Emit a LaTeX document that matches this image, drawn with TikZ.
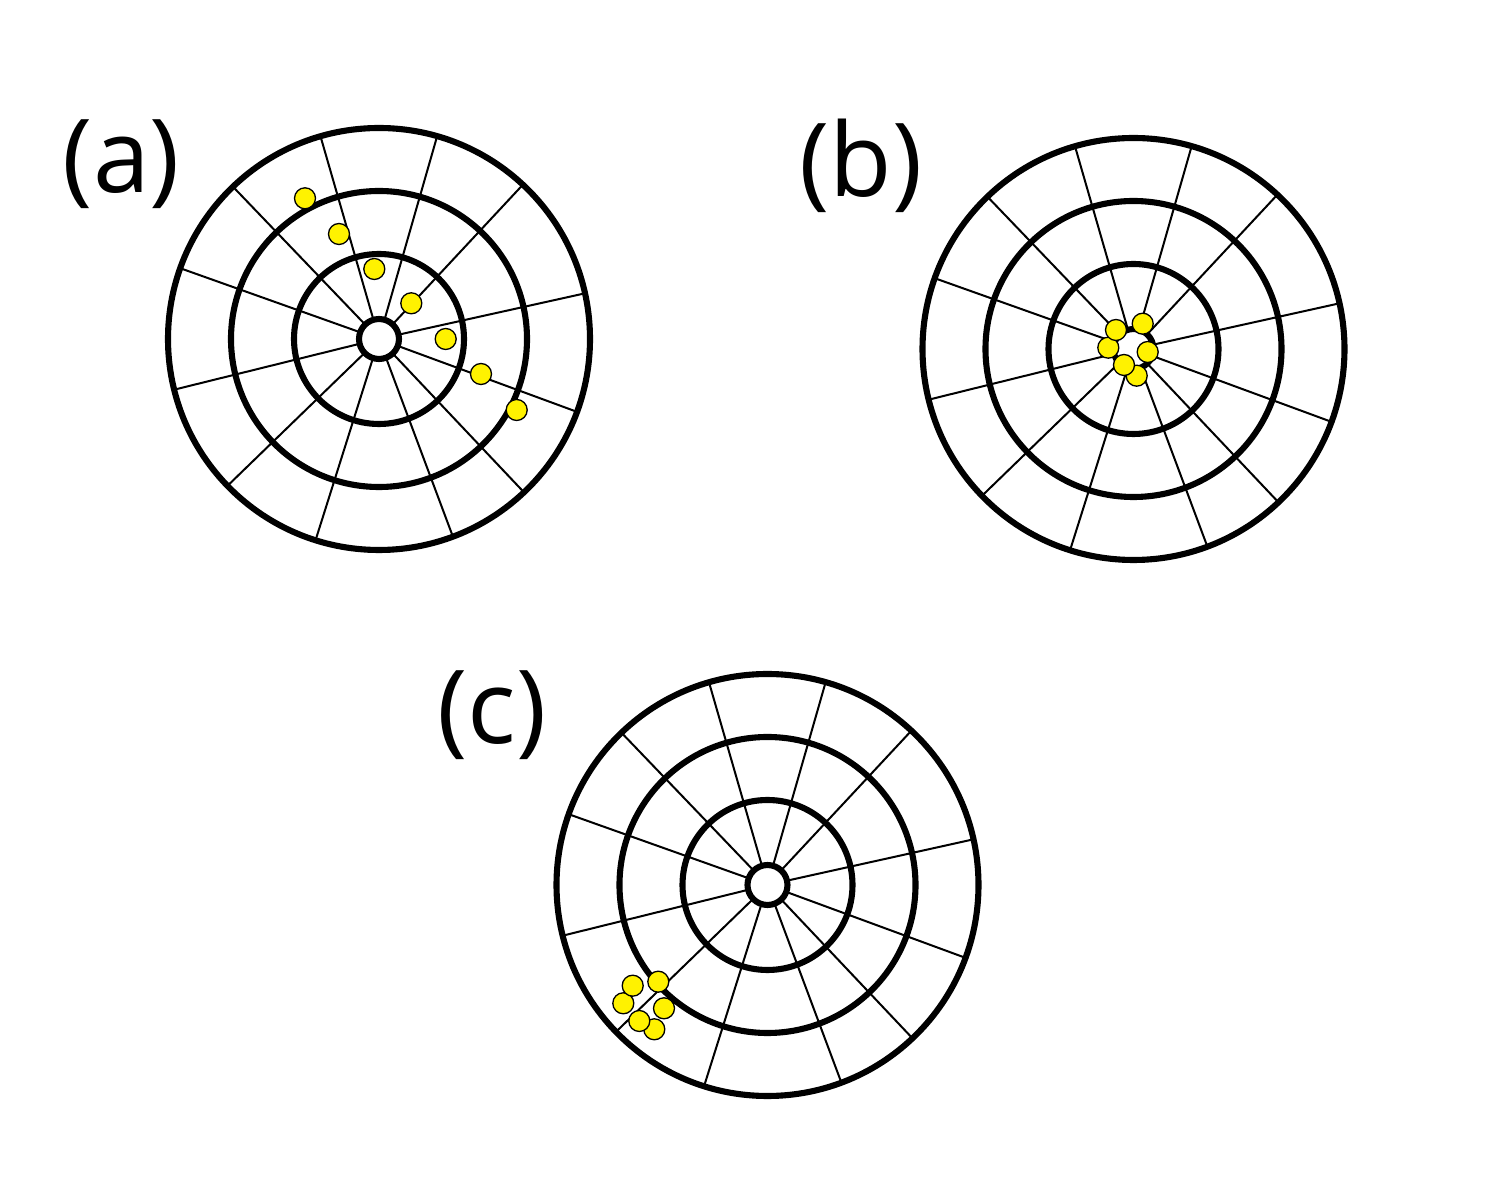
\documentclass[tikz,border=0pt]{standalone}
\usepackage{fontspec}
\setmainfont{Open Sans}
\begin{document}
\begin{tikzpicture}[x=0.5pt,y=-0.5pt,
  ring/.style={line width=3.05pt},
  spoke/.style={line width=1pt},
  dot/.style={fill=yellow, draw=black, line width=0.65pt},
  lbl/.style={font=\fontsize{51}{55}\selectfont, inner sep=0pt}]
\useasboundingbox[fill=white] (0,0) rectangle (1496,1186);
\newcommand\drawtarget[1]{%
  \begin{scope}[shift={#1}]
    \foreach \a in {12.5,47,74,106.1,133.8,160.4,193.9,224.1,252.5,290.5,313.4,339.8}
      \draw[spoke] (-\a:20) -- (-\a:211);
    \draw[ring] (0,0) circle[radius=211];
    \draw[ring] (0,0) circle[radius=148];
    \draw[ring] (0,0) circle[radius=85];
    \draw[ring, fill=white] (0,0) circle[radius=20];
  \end{scope}}
\drawtarget{(379,339)}
\drawtarget{(1133.5,349)}
\drawtarget{(767.5,885)}
% labels
\node[lbl] (la) at (121.5,164) {(a)};
\node[lbl] (lb) at (861,166) {(b)};
\node[lbl] (lc) at (492,715) {(c)};
% dots (a)
\foreach \p in {(305,198.3),(339,234),(374.3,269),(411.3,303.3),(445.7,339),(481,374),(516.7,410)}
  \draw[dot] \p circle[radius=10.5];
% dots (b)
\foreach \p in {(1136.7,375.7),(1124,365),(1108.3,347.7),(1116,330),(1142.7,323.7),(1147.7,352)}
  \draw[dot] \p circle[radius=10.5];
% dots (c)
\foreach \p in {(654.3,1029.3),(639.3,1021),(623.3,1003.3),(632.7,985.7),(658.3,981.7),(664,1008.3)}
  \draw[dot] \p circle[radius=10.5];
\end{tikzpicture}
\end{document}
